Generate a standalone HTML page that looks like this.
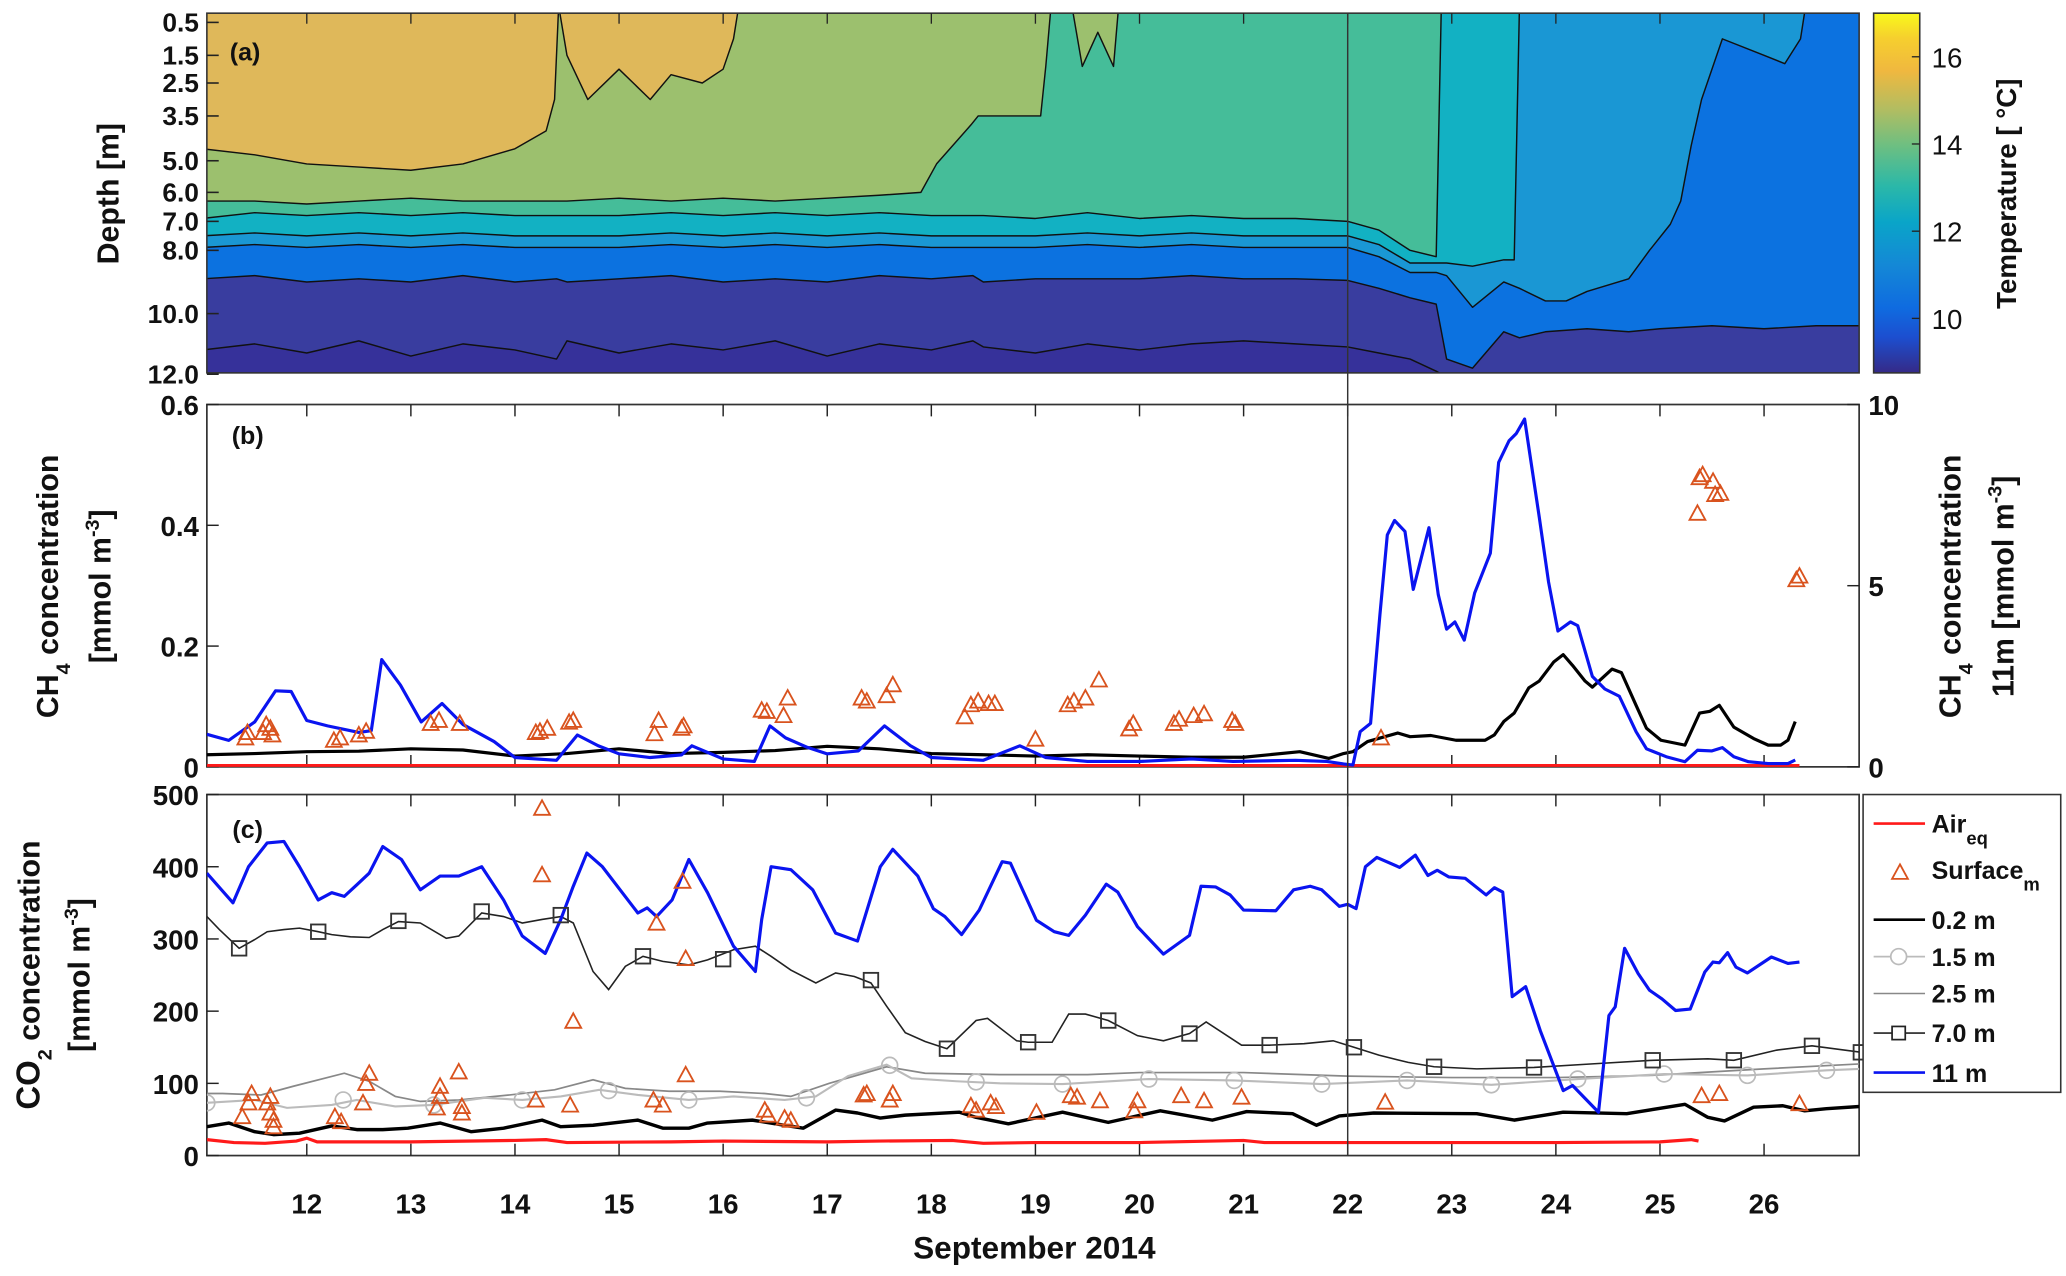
<!DOCTYPE html>
<html><head><meta charset="utf-8">
<style>
html,body{margin:0;padding:0;background:#fff;}
svg{display:block;font-family:"Liberation Sans",Arial,sans-serif;}
</style></head>
<body>
<svg id="fig" xmlns="http://www.w3.org/2000/svg" width="2066" height="1276" viewBox="0 0 1568 968.4" preserveAspectRatio="none">
<defs>
<clipPath id="clipA"><rect x="157" y="10" width="1254" height="273"/></clipPath>
<clipPath id="clipB"><rect x="157" y="307" width="1254" height="275"/></clipPath>
<clipPath id="clipC"><rect x="157" y="603" width="1254" height="274"/></clipPath>
<linearGradient id="parula" x1="0" y1="1" x2="0" y2="0">
<stop offset="0" stop-color="#352a87"/>
<stop offset="0.1" stop-color="#1c4fd0"/>
<stop offset="0.18" stop-color="#0f6be0"/>
<stop offset="0.3" stop-color="#1488d6"/>
<stop offset="0.42" stop-color="#0aa5c8"/>
<stop offset="0.52" stop-color="#2bb8a8"/>
<stop offset="0.63" stop-color="#6cbf82"/>
<stop offset="0.73" stop-color="#b0bd62"/>
<stop offset="0.84" stop-color="#f0b83f"/>
<stop offset="0.93" stop-color="#f6cf2e"/>
<stop offset="1" stop-color="#f9f91a"/>
</linearGradient>
</defs>
<g id="gA"></g>
<g id="gB"></g>
<g id="gC"></g>
<g id="gT"></g>
</svg>
<script>
// ---------- Panel (a) isotherm data ----------
const iso15Days = [11,11.5,12,12.5,13,13.5,14,14.3,14.38,14.42,14.5,14.7,15,15.3,15.5,15.8,16.0,16.1,16.15,27];
const iso15Vals = [4.6,4.8,5.1,5.2,5.3,5.1,4.6,4.0,3.0,0,1.5,3.0,2.0,3.0,2.2,2.5,2.0,1.0,0,0];
const iso14Days = [11,11.5,12,12.5,13,13.5,14,14.5,15,15.5,16,16.5,17,17.5,17.9,18.05,18.38,18.45,19.05,19.1,19.15,19.35,19.45,19.6,19.75,19.8,27];
const iso14Vals = [6.3,6.3,6.4,6.3,6.2,6.3,6.3,6.3,6.2,6.3,6.2,6.3,6.2,6.1,6.0,5.1,3.8,3.5,3.5,1.9,0,0,1.9,0.8,1.9,0,0];
const iso13Days = [11,11.5,12,12.5,13,13.5,14,14.5,15,15.5,16,16.5,17,17.5,18,18.5,19,19.5,20,20.5,21,21.5,22,22.3,22.6,22.85,22.9,27];
const iso13Vals = [6.9,6.7,6.8,6.7,6.8,6.7,6.8,6.8,6.8,6.7,6.8,6.7,6.8,6.7,6.8,6.8,6.9,6.7,6.9,6.8,6.9,6.9,7.0,7.3,8.0,8.2,0,0];
const iso12Days = [11,11.5,12,12.5,13,13.5,14,14.5,15,15.5,16,16.5,17,17.5,18,18.5,19,19.5,20,20.5,21,21.5,22,22.3,22.6,22.85,22.95,23.2,23.5,23.6,23.65,27];
const iso12Vals = [7.5,7.4,7.5,7.4,7.5,7.4,7.5,7.5,7.5,7.4,7.5,7.4,7.5,7.4,7.5,7.5,7.5,7.4,7.5,7.4,7.5,7.5,7.5,7.8,8.4,8.4,8.4,8.5,8.3,8.3,0,0];
const iso11Days = [11,11.5,12,12.5,13,13.5,14,14.5,15,15.5,16,16.5,17,17.5,18,18.5,19,19.5,20,20.5,21,21.5,22,22.3,22.6,22.85,22.95,23.2,23.5,23.65,23.9,24.1,24.3,24.7,24.9,25.1,25.2,25.3,25.4,25.6,26.0,26.2,26.35,26.4,27];
const iso11Vals = [7.9,7.8,7.9,7.8,7.9,7.8,7.9,7.9,7.9,7.8,7.9,7.8,7.9,7.8,7.9,7.9,7.9,7.8,7.9,7.8,7.9,7.9,7.9,8.2,8.7,8.7,8.8,9.8,9.0,9.2,9.6,9.6,9.3,8.9,8.0,7.1,6.3,4.5,3.0,1.0,1.5,1.8,1.0,0,0];
const isoDays = [11,11.5,12,12.5,13,13.5,14,14.4,14.5,15,15.5,16,16.5,17,17.5,18,18.4,18.5,19,19.5,20,20.5,21,21.5,22,22.3,22.6,22.85,22.95,23.2,23.5,23.65,23.9,24.3,24.7,25,25.5,26,26.5,27];
const iso10Vals = [8.9,8.8,9.0,8.9,9.0,8.8,9.0,8.9,9.0,8.9,8.8,9.0,8.9,9.0,8.8,8.9,8.8,9.0,8.9,8.9,8.9,8.8,8.9,8.9,8.95,9.2,9.5,9.7,11.5,11.8,10.6,10.8,10.6,10.5,10.6,10.5,10.4,10.5,10.4,10.4];
const iso9Vals = [11.2,11.0,11.3,10.9,11.4,11.0,11.2,11.5,10.9,11.3,11.0,11.2,10.9,11.4,11.0,11.2,10.9,11.1,11.3,11.0,11.2,11.0,10.9,11.0,11.1,11.3,11.5,11.9,12.1,12.2,12.2,12.2,12.2,12.2,12.2,12.2,12.2,12.2,12.2,12.2];
const depthTicks = [0.5,1.5,2.5,3.5,5.0,6.0,7.0,8.0,10.0,12.0];
const tempTicks = [10,12,14,16];
// ---------- Panel (b) CH4 data ----------
const ch4DeepDays = [11.04,11.25,11.5,11.7,11.85,12.0,12.2,12.5,12.62,12.72,12.9,13.1,13.3,13.5,13.8,14.0,14.4,14.6,14.8,15.0,15.3,15.6,15.7,16.0,16.3,16.45,16.6,16.8,17.0,17.3,17.55,17.8,18.0,18.5,18.85,19.1,19.5,20,20.5,20.9,21.5,21.8,21.96,22.05,22.12,22.22,22.31,22.38,22.45,22.55,22.63,22.78,22.87,22.95,23.03,23.12,23.22,23.37,23.45,23.55,23.62,23.7,23.84,23.93,24.02,24.14,24.21,24.35,24.47,24.61,24.77,24.87,25.06,25.24,25.36,25.5,25.6,25.71,25.85,26.04,26.23,26.3];
const ch4DeepVals = [0.9,0.73,1.24,2.1,2.08,1.28,1.13,0.95,1.0,2.96,2.26,1.24,1.75,1.17,0.7,0.26,0.18,0.88,0.58,0.36,0.26,0.33,0.58,0.22,0.15,1.13,0.8,0.55,0.36,0.44,1.13,0.58,0.26,0.18,0.58,0.26,0.15,0.15,0.22,0.15,0.18,0.15,0.08,0.05,0.97,1.2,4.2,6.4,6.8,6.5,4.9,6.6,4.75,3.8,4.0,3.5,4.8,5.9,8.4,9.0,9.2,9.6,6.9,5.1,3.75,4.0,3.9,2.5,2.15,1.95,0.97,0.5,0.28,0.14,0.46,0.44,0.53,0.28,0.14,0.09,0.09,0.19];
const ch4SurfDays = [11.04,11.5,12,12.5,13,13.5,14,14.5,15,15.5,16,16.5,17,17.5,18,18.5,19,19.5,20,20.5,21,21.54,21.82,21.96,22.05,22.19,22.48,22.6,22.8,23.04,23.32,23.41,23.5,23.6,23.74,23.84,23.98,24.07,24.16,24.28,24.35,24.54,24.63,24.77,24.87,25.01,25.24,25.38,25.48,25.57,25.71,25.9,26.04,26.16,26.23,26.3];
const ch4SurfVals = [0.020,0.022,0.025,0.026,0.030,0.028,0.018,0.022,0.030,0.022,0.024,0.027,0.034,0.030,0.022,0.020,0.018,0.020,0.018,0.016,0.016,0.025,0.014,0.022,0.025,0.042,0.056,0.050,0.052,0.044,0.044,0.053,0.075,0.089,0.131,0.142,0.174,0.186,0.168,0.142,0.132,0.162,0.156,0.102,0.064,0.044,0.036,0.089,0.092,0.102,0.066,0.047,0.036,0.036,0.044,0.075];
const ch4AirDays = [11.04,26.34];
const ch4AirVals = [0.002,0.002];
const ch4TriDays = [11.41,11.43,11.58,11.61,11.65,11.67,12.26,12.32,12.50,12.57,13.19,13.27,13.47,14.20,14.24,14.31,14.52,14.56,15.34,15.38,15.60,15.62,16.37,16.42,16.58,16.62,17.33,17.38,17.57,17.63,18.32,18.38,18.45,18.55,18.61,19.0,19.31,19.37,19.48,19.61,19.90,19.94,20.33,20.38,20.52,20.62,20.89,20.92,22.32,25.38,25.41,25.36,25.51,25.53,25.58,26.31,26.34];
const ch4TriVals = [0.048,0.057,0.057,0.070,0.064,0.053,0.044,0.048,0.053,0.059,0.072,0.077,0.072,0.057,0.059,0.064,0.074,0.077,0.055,0.077,0.064,0.068,0.094,0.092,0.085,0.114,0.114,0.109,0.118,0.136,0.083,0.103,0.109,0.105,0.105,0.046,0.103,0.109,0.114,0.144,0.063,0.072,0.072,0.079,0.085,0.088,0.077,0.072,0.048,0.479,0.484,0.420,0.473,0.451,0.453,0.310,0.316];
const ch4LeftTicks = [0,0.2,0.4,0.6];
const ch4RightTicks = [0,5,10];
// ---------- Panel (c) CO2 data ----------
const co2DeepDays = [11.04,11.29,11.44,11.62,11.78,11.93,12.11,12.24,12.36,12.48,12.60,12.73,12.91,13.09,13.28,13.46,13.68,13.89,14.07,14.29,14.44,14.56,14.69,14.84,15.18,15.27,15.36,15.51,15.67,15.85,16.10,16.31,16.37,16.46,16.65,16.86,17.08,17.29,17.51,17.63,17.87,18.02,18.13,18.29,18.46,18.68,18.76,19.01,19.18,19.32,19.48,19.68,19.79,19.98,20.23,20.48,20.59,20.73,20.87,21.0,21.31,21.48,21.64,21.75,21.92,22.0,22.08,22.17,22.28,22.5,22.65,22.77,22.86,22.97,23.13,23.33,23.41,23.49,23.58,23.71,23.85,24.07,24.16,24.41,24.51,24.57,24.66,24.79,24.9,25.02,25.15,25.29,25.43,25.51,25.57,25.65,25.73,25.84,26.07,26.23,26.34];
const co2DeepVals = [391,350,400,433,435,400,354,364,359,375,391,428,410,368,387,387,400,354,304,280,327,373,419,400,336,343,331,354,410,364,290,255,327,400,396,368,308,297,400,424,387,342,331,306,340,407,405,326,310,305,333,376,365,317,279,305,373,372,361,340,339,368,373,368,345,348,342,400,413,399,416,388,395,386,384,361,371,365,220,234,173,90,97,60,194,206,287,252,229,217,201,203,254,268,267,281,261,253,275,266,268];
const co2M7Days = [11.04,11.16,11.35,11.5,11.62,11.78,11.93,12.11,12.24,12.42,12.60,12.73,12.88,13.09,13.34,13.46,13.68,13.89,14.07,14.26,14.44,14.56,14.75,14.9,15.06,15.23,15.42,15.67,15.85,16.1,16.31,16.46,16.65,16.89,17.08,17.26,17.42,17.57,17.75,17.94,18.15,18.43,18.54,18.82,18.93,19.16,19.32,19.48,19.7,19.98,20.23,20.48,20.64,20.98,21.25,21.58,21.86,22.06,22.3,22.58,22.83,23.24,23.79,24.35,24.93,25.46,25.71,26.12,26.46,26.93];
const co2M7Vals = [331,313,287,299,310,313,315,310,306,303,302,313,324,322,301,304,336,331,322,327,331,322,255,230,262,276,269,264,271,285,290,276,257,239,253,248,239,207,170,158,148,187,190,159,157,157,196,196,187,166,159,169,185,153,153,155,159,150,139,129,123,120,122,127,132,134,132,146,152,143];
const co2M7MarkDays = [11.35,12.11,12.88,13.68,14.44,15.23,16.0,17.42,18.15,18.93,19.7,20.48,21.25,22.06,22.83,23.79,24.93,25.71,26.46,26.93];
const co2M7MarkVals = [287,310,325,338,333,276,272,243,148,157,187,169,153,150,123,122,132,132,152,143];
const co2M02Days = [11.04,11.25,11.5,11.68,11.93,12.24,12.48,12.73,12.97,13.28,13.58,13.89,14.26,14.44,14.75,15.18,15.42,15.67,15.85,16.28,16.59,16.77,17.08,17.29,17.51,17.75,18.27,18.43,18.74,19.26,19.7,20.2,20.7,21.03,21.47,21.7,21.92,22.25,23.24,23.6,24.07,24.68,25.24,25.46,25.62,25.9,26.18,26.39,26.6,26.93];
const co2M02Vals = [40,45,33,29,31,41,36,36,38,45,33,38,49,40,42,49,38,38,45,49,42,38,63,59,52,56,60,53,44,60,46,62,49,61,58,42,55,59,58,49,60,58,71,53,48,67,69,62,65,68];
const co2M15Days = [11.04,11.5,11.81,12.24,12.48,12.85,13.22,13.71,14.07,14.44,14.81,15.18,15.67,16.1,16.59,16.89,17.2,17.57,17.81,18.24,18.66,19.26,20.09,20.91,21.75,22.57,23.38,24.21,25.04,25.84,26.6,26.93];
const co2M15Vals = [73,77,66,70,77,68,70,80,77,82,91,84,77,82,77,82,110,126,107,103,100,99,106,104,99,104,98,106,113,111,118,120];
const co2M15MarkDays = [11.04,12.35,13.22,14.07,14.9,15.67,16.8,17.6,18.43,19.26,20.09,20.91,21.75,22.57,23.38,24.21,25.04,25.84,26.6];
const co2M15MarkVals = [73,77,70,77,90,77,80,125,102,99,106,104,99,104,98,106,113,111,118];
const co2M25Days = [11.04,11.19,11.56,11.87,12.36,12.6,12.85,13.09,13.46,13.95,14.38,14.75,15.06,15.48,15.97,16.4,16.65,17.02,17.57,17.94,18.66,19.5,20,21,22,23,24,24.9,26,26.93];
const co2M25Vals = [86,86,84,96,114,103,82,75,77,84,91,105,93,89,89,86,82,100,123,114,112,112,115,115,110,108,108,111,120,127];
const co2AirDays = [11.04,11.3,11.6,11.9,12.0,12.1,13,14,14.3,14.5,15.5,16,17,17.5,18.2,18.5,19,20,21,21.2,22,23,24,25,25.3,25.37];
const co2AirVals = [22,18,17,20,24,19,19,21,22,18,19,20,19,20,21,17,18,18,21,18,18,18,18,19,22,20];
const co2TriDays = [11.38,11.44,11.47,11.62,11.65,11.65,11.68,11.68,12.27,12.33,12.54,12.57,12.60,13.25,13.28,13.28,13.46,13.49,13.49,14.2,14.26,14.26,14.53,14.56,15.33,15.36,15.42,15.61,15.64,15.64,16.40,16.43,16.59,16.65,17.35,17.38,17.6,17.63,18.38,18.43,18.57,18.62,19.01,19.34,19.4,19.62,19.98,19.95,20.4,20.62,20.98,22.36,25.4,25.57,26.34];
const co2TriVals = [54,73,86,73,82,59,49,40,54,47,73,100,114,66,96,82,116,68,59,77,481,389,70,186,77,322,70,380,273,112,63,56,52,49,84,86,77,86,69,63,73,68,60,83,81,76,76,62,83,76,81,74,83,86,72];
const co2Ticks = [0,100,200,300,400,500];
const dayTicks = [12,13,14,15,16,17,18,19,20,21,22,23,24,25,26];

// ---------- scales ----------
const NS = 'http://www.w3.org/2000/svg';
const X0 = 157, X1 = 1411, D0 = 11.04, PXD = 79;
function xs(d){ return X0 + (d - D0) * PXD; }
const depthPx = [[0.5,17],[1.5,42],[2.5,63],[3.5,88],[5.0,122],[6.0,146],[7.0,168],[8.0,190],[10.0,238],[12.0,284]];
function ya(z){
  if (z <= depthPx[0][0]) return 17 - (0.5 - z) * 25;
  for (let i = 1; i < depthPx.length; i++){
    if (z <= depthPx[i][0]){
      const a = depthPx[i-1], b = depthPx[i];
      return a[1] + (z - a[0]) / (b[0] - a[0]) * (b[1] - a[1]);
    }
  }
  const a = depthPx[depthPx.length-2], b = depthPx[depthPx.length-1];
  return b[1] + (z - b[0]) / (b[0] - a[0]) * (b[1] - a[1]);
}
function ybL(v){ return 582 - v / 0.6 * 275; }
function ybR(v){ return 582 - v / 10 * 275; }
function yc(v){ return 877 - v / 500 * 274; }
function tcol(t){ return 283 - (t - 8.75) / (17 - 8.75) * 273; }

function mk(tag, attrs, parent){
  const e = document.createElementNS(NS, tag);
  for (const k in attrs) e.setAttribute(k, attrs[k]);
  if (parent) parent.appendChild(e);
  return e;
}
function pathFrom(days, vals, yf){
  let s = '';
  for (let i = 0; i < days.length; i++) s += (i ? 'L' : 'M') + xs(days[i]).toFixed(1) + ',' + yf(vals[i]).toFixed(1);
  return s;
}
function text(parent, x, y, str, size, anchor, extra){
  const t = mk('text', Object.assign({x:x, y:y, 'font-size':size, 'font-weight':'bold', 'text-anchor':anchor||'middle', fill:'#111'}, extra||{}), parent);
  t.textContent = str;
  return t;
}

const gA = document.getElementById('gA'), gB = document.getElementById('gB'), gC = document.getElementById('gC'), gT = document.getElementById('gT');

// ---------- Panel A ----------
const bg = mk('rect', {x:157, y:10, width:1254, height:273, fill:'#36319a'}, gA);


const layerG = mk('g', {'clip-path':'url(#clipA)'}, gA);
const layers = [[isoDays,iso9Vals,'#393d9f','isotherm-9'],[isoDays,iso10Vals,'#0c72e0','isotherm-10'],[iso11Days,iso11Vals,'#1a97d4','isotherm-11'],[iso12Days,iso12Vals,'#12b1c3','isotherm-12'],[iso13Days,iso13Vals,'#45bd99','isotherm-13'],[iso14Days,iso14Vals,'#9cc06e','isotherm-14'],[iso15Days,iso15Vals,'#dfb85a','isotherm-15']];
layers.forEach(function(L){
  const dd = L[0];
  const d = 'M' + xs(dd[0]) + ',0' + pathFrom(dd, L[1], ya).replace('M','L') + 'L' + xs(dd[dd.length-1]) + ',0Z';
  const p = mk('path', {d:d, fill:L[2], stroke:'#111', 'stroke-width':1.1, 'stroke-linejoin':'round'}, layerG);
  
  
});
const frA = mk('rect', {x:157, y:10, width:1254, height:273, fill:'none', stroke:'#333', 'stroke-width':1.2}, gA);


depthTicks.forEach(function(z){
  const y = ya(z);
  mk('line', {x1:157, x2:166, y1:y, y2:y, stroke:'#222', 'stroke-width':1.2}, gA);
  const t = text(gA, 151, y + 7, z.toFixed(1), 20, 'end');
  
  
});
dayTicks.forEach(function(d){
  mk('line', {x1:xs(d), x2:xs(d), y1:10, y2:18, stroke:'#222', 'stroke-width':1}, gA);
});
const cb = mk('rect', {x:1422, y:10, width:35, height:273, fill:'url(#parula)', stroke:'#333', 'stroke-width':1.2}, gA);


tempTicks.forEach(function(t){
  const y = tcol(t);
  mk('line', {x1:1451, x2:1457, y1:y, y2:y, stroke:'#222', 'stroke-width':1}, gA);
  const lb = text(gA, 1466, y + 8, String(t), 21, 'start', {'font-weight':'normal'});
  
  
});

// ---------- generic panel frame ----------
function frame(g, y0, h, name){
  const r = mk('rect', {x:157, y:y0, width:1254, height:h, fill:'none', stroke:'#333', 'stroke-width':1.3}, g);
  
  
  dayTicks.forEach(function(d){
    mk('line', {x1:xs(d), x2:xs(d), y1:y0, y2:y0+9, stroke:'#222', 'stroke-width':1.1}, g);
    mk('line', {x1:xs(d), x2:xs(d), y1:y0+h, y2:y0+h-9, stroke:'#222', 'stroke-width':1.1}, g);
  });
}
function tri(g, x, y){
  return mk('path', {d:'M'+x+','+(y-6)+'L'+(x+6)+','+(y+5)+'L'+(x-6)+','+(y+5)+'Z', fill:'none', stroke:'#d9531e', 'stroke-width':1.4}, g);
}

// ---------- Panel B ----------
frame(gB, 307, 275, 'panel-b-frame');
ch4LeftTicks.forEach(function(v){
  const y = ybL(v);
  mk('line', {x1:157, x2:166, y1:y, y2:y, stroke:'#222', 'stroke-width':1.1}, gB);
  const t = text(gB, 151, y + 8, String(v), 21, 'end');
  
  
});
ch4RightTicks.forEach(function(v){
  const y = ybR(v);
  mk('line', {x1:1402, x2:1411, y1:y, y2:y, stroke:'#222', 'stroke-width':1.1}, gB);
  const t = text(gB, 1418, y + 8, String(v), 21, 'start');
  
  
});
const bPlot = mk('g', {'clip-path':'url(#clipB)'}, gB);
const bAir = mk('path', {d:pathFrom(ch4AirDays, ch4AirVals, ybL), fill:'none', stroke:'#ff1a1a', 'stroke-width':2.6}, bPlot);


const bSurf = mk('path', {d:pathFrom(ch4SurfDays, ch4SurfVals, ybL), fill:'none', stroke:'#000', 'stroke-width':2.4, 'stroke-linejoin':'round'}, bPlot);


const bDeep = mk('path', {d:pathFrom(ch4DeepDays, ch4DeepVals, ybR), fill:'none', stroke:'#0a14f0', 'stroke-width':2.4, 'stroke-linejoin':'round'}, bPlot);


ch4TriDays.forEach(function(d, i){
  const m = tri(bPlot, xs(d), ybL(ch4TriVals[i]));
  
  
});

// ---------- Panel C ----------
frame(gC, 603, 274, 'panel-c-frame');
co2Ticks.forEach(function(v){
  const y = yc(v);
  mk('line', {x1:157, x2:166, y1:y, y2:y, stroke:'#222', 'stroke-width':1.1}, gC);
  const t = text(gC, 151, y + 8, String(v), 21, 'end');
  
  
});
dayTicks.forEach(function(d){
  const t = text(gC, xs(d), 921, String(d), 21, 'middle');
  
  
});
const cPlot = mk('g', {'clip-path':'url(#clipC)'}, gC);
const cAir = mk('path', {d:pathFrom(co2AirDays, co2AirVals, yc), fill:'none', stroke:'#ff1a1a', 'stroke-width':2.4}, cPlot);


const c25 = mk('path', {d:pathFrom(co2M25Days, co2M25Vals, yc), fill:'none', stroke:'#888', 'stroke-width':1.3}, cPlot);


const c15 = mk('path', {d:pathFrom(co2M15Days, co2M15Vals, yc), fill:'none', stroke:'#bbb', 'stroke-width':1.6}, cPlot);


co2M15MarkDays.forEach(function(d, i){
  const c = mk('circle', {cx:xs(d), cy:yc(co2M15MarkVals[i]), r:6, fill:'none', stroke:'#bbb', 'stroke-width':1.3}, cPlot);
  
  
});
const c02 = mk('path', {d:pathFrom(co2M02Days, co2M02Vals, yc), fill:'none', stroke:'#000', 'stroke-width':2.6, 'stroke-linejoin':'round'}, cPlot);


const c7 = mk('path', {d:pathFrom(co2M7Days, co2M7Vals, yc), fill:'none', stroke:'#222', 'stroke-width':1.2}, cPlot);


co2M7MarkDays.forEach(function(d, i){
  const s = mk('rect', {x:xs(d)-5.5, y:yc(co2M7MarkVals[i])-5.5, width:11, height:11, fill:'none', stroke:'#333', 'stroke-width':1.4}, gC);
  
  
});
const cDeep = mk('path', {d:pathFrom(co2DeepDays, co2DeepVals, yc), fill:'none', stroke:'#0a14f0', 'stroke-width':2.4, 'stroke-linejoin':'round'}, cPlot);


co2TriDays.forEach(function(d, i){
  const m = tri(cPlot, xs(d), yc(co2TriVals[i]));
  
  
});

// vertical reference line at day 22
const vl = mk('line', {x1:xs(22), x2:xs(22), y1:10, y2:877, stroke:'#333', 'stroke-width':1.1}, gT);



// ---------- Legend ----------
const lg = mk('g', {}, gT);


mk('rect', {x:1414, y:603, width:150, height:226, fill:'#fff', stroke:'#333', 'stroke-width':1.2}, lg);
const legendItems = [['Air','eq',625,'air'],['Surface','m',660,'surf'],['0.2 m','',698,'m02'],['1.5 m','',726,'m15'],['2.5 m','',754,'m25'],['7.0 m','',784,'m7'],['11 m','',814,'m11']];
legendItems.forEach(function(it){
  const y = it[2];
  const e = mk('g', {}, lg);
  
  
  if (it[3] === 'air') mk('line', {x1:1422, x2:1461, y1:y, y2:y, stroke:'#ff1a1a', 'stroke-width':2}, e);
  if (it[3] === 'surf') tri(e, 1442, y + 2);
  if (it[3] === 'm02') mk('line', {x1:1422, x2:1461, y1:y, y2:y, stroke:'#000', 'stroke-width':2}, e);
  if (it[3] === 'm15'){ mk('line', {x1:1422, x2:1461, y1:y, y2:y, stroke:'#bbb', 'stroke-width':1.3}, e); mk('circle', {cx:1441, cy:y, r:6, fill:'#fff', stroke:'#bbb', 'stroke-width':1.3}, e); }
  if (it[3] === 'm25') mk('line', {x1:1422, x2:1461, y1:y, y2:y, stroke:'#888', 'stroke-width':1.2}, e);
  if (it[3] === 'm7'){ mk('line', {x1:1422, x2:1461, y1:y, y2:y, stroke:'#222', 'stroke-width':1.2}, e); mk('rect', {x:1436, y:y-5, width:10, height:10, fill:'#fff', stroke:'#222', 'stroke-width':1.3}, e); }
  if (it[3] === 'm11') mk('line', {x1:1422, x2:1461, y1:y, y2:y, stroke:'#0a14f0', 'stroke-width':2}, e);
  const t = text(e, 1466, y + 7, it[0], 19, 'start');
  if (it[1]){ const s = mk('tspan', {dy:9, 'font-size':14}, t); s.textContent = it[1]; }
});

// ---------- Titles / labels ----------
function rotText(x, y, parts, size, name){
  const t = mk('text', {transform:'translate('+x+','+y+') rotate(-90)', 'font-size':size, 'font-weight':'bold', 'text-anchor':'middle', fill:'#111'}, gT);
  parts.forEach(function(p){
    const s = mk('tspan', p[1] ? {dy:p[1], 'font-size':p[2]} : {}, t);
    s.textContent = p[0];
  });
  
  
  return t;
}
rotText(90, 147, [['Depth [m]']], 23, 'depth-axis-title');
rotText(44, 445, [['CH'],['4',9,15],[' concentration',-9,23]], 23, 'ch4-axis-title');
rotText(84, 445, [['[mmol m'],['-3',-9,15],[']',9,23]], 23, 'ch4-axis-unit');
rotText(1488, 445, [['CH'],['4',9,15],[' concentration',-9,23]], 23, 'ch4-right-axis-title');
rotText(1528, 445, [['11m [mmol m'],['-3',-9,15],[']',9,23]], 23, 'ch4-right-axis-unit');
rotText(30, 740, [['CO'],['2',9,15],[' concentration',-9,23]], 25, 'co2-axis-title');
rotText(68, 740, [['[mmol m'],['-3',-9,15],[']',9,23]], 23, 'co2-axis-unit');
rotText(1530, 147, [['Temperature [ °C]']], 21, 'colorbar-title');
const xt = text(gT, 785, 955, 'September 2014', 24, 'middle');


const la = text(gT, 186, 46, '(a)', 19, 'middle');


const lbb = text(gT, 188, 337, '(b)', 19, 'middle');


const lc = text(gT, 188, 636, '(c)', 19, 'middle');


</script>
</body></html>
